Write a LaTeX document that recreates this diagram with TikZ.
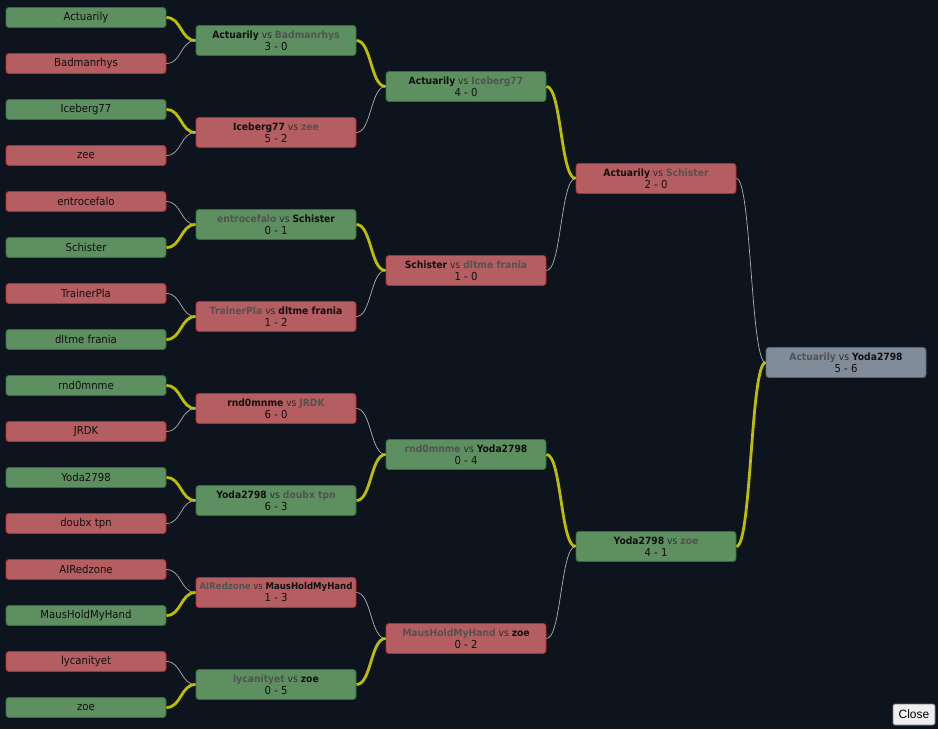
\documentclass[tikz,border=0pt]{standalone}
\usepackage{fontspec}
\setmainfont{DejaVu Sans}[FakeStretch=0.92]
\newfontfamily\btnfont{Liberation Sans}
\definecolor{bg}{RGB}{14,20,29}
\definecolor{gfill}{RGB}{94,143,97}
\definecolor{gborder}{RGB}{38,120,44}
\definecolor{rfill}{RGB}{181,94,98}
\definecolor{rborder}{RGB}{200,35,40}
\definecolor{ffill}{RGB}{128,140,153}
\definecolor{fborder}{RGB}{90,100,112}
\definecolor{wincol}{RGB}{190,190,0}
\definecolor{losecol}{RGB}{175,175,175}
\definecolor{losertxt}{RGB}{82,82,82}
\definecolor{vscol}{RGB}{45,45,45}
\definecolor{txt}{RGB}{15,15,15}
\definecolor{btnfill}{RGB}{239,239,239}
\definecolor{btnborder}{RGB}{118,118,118}
\newcommand\Wn[1]{\textbf{\textcolor{txt}{#1}}}
\newcommand\Ln[1]{\textbf{\textcolor{losertxt}{#1}}}
\newcommand\vsx{\space\textcolor{vscol}{vs}\space}
\newcommand\Sc[1]{{\fontsize{11pt}{12pt}\selectfont #1}}
\begin{document}
\begin{tikzpicture}[x=1pt,y=-1pt,
  box/.style={rounded corners=3pt, inner sep=0pt, line width=0.9pt, text=txt},
  leaf/.style={box, minimum width=160pt, minimum height=20pt, font=\fontsize{11pt}{13pt}\selectfont},
  match/.style={box, minimum width=160pt, minimum height=30pt, align=center, font=\fontsize{10pt}{12pt}\selectfont},
  tight/.style={font=\fontsize{9.3pt}{12pt}\selectfont},
  gbox/.style={fill=gfill, draw=gborder},
  rbox/.style={fill=rfill, draw=rborder},
  fbox/.style={fill=ffill, draw=fborder},
  wl/.style={draw=wincol, line width=2.8pt},
  ll/.style={draw=losecol, line width=0.7pt}]
\fill[bg] (0,0) rectangle (938,729);
% leaves
\node[leaf,gbox] (l1)  at (86,17.5)  {Actuarily};
\node[leaf,rbox] (l2)  at (86,63.5)  {Badmanrhys};
\node[leaf,gbox] (l3)  at (86,109.5) {Iceberg77};
\node[leaf,rbox] (l4)  at (86,155.5) {zee};
\node[leaf,rbox] (l5)  at (86,201.5) {entrocefalo};
\node[leaf,gbox] (l6)  at (86,247.5) {Schister};
\node[leaf,rbox] (l7)  at (86,293.5) {TrainerPla};
\node[leaf,gbox] (l8)  at (86,339.5) {dltme frania};
\node[leaf,gbox] (l9)  at (86,385.5) {rnd0mnme};
\node[leaf,rbox] (l10) at (86,431.5) {JRDK};
\node[leaf,gbox] (l11) at (86,477.5) {Yoda2798};
\node[leaf,rbox] (l12) at (86,523.5) {doubx tpn};
\node[leaf,rbox] (l13) at (86,569.5) {AIRedzone};
\node[leaf,gbox] (l14) at (86,615.5) {MausHoldMyHand};
\node[leaf,rbox] (l15) at (86,661.5) {lycanityet};
\node[leaf,gbox] (l16) at (86,707.5) {zoe};
% round 1
\node[match,gbox] (m1) at (276,40.5)  {\Wn{Actuarily}\vsx\Ln{Badmanrhys}\\\Sc{3 - 0}};
\node[match,rbox] (m2) at (276,132.5) {\Wn{Iceberg77}\vsx\Ln{zee}\\\Sc{5 - 2}};
\node[match,gbox] (m3) at (276,224.5) {\Ln{entrocefalo}\vsx\Wn{Schister}\\\Sc{0 - 1}};
\node[match,rbox] (m4) at (276,316.5) {\Ln{TrainerPla}\vsx\Wn{dltme frania}\\\Sc{1 - 2}};
\node[match,rbox] (m5) at (276,408.5) {\Wn{rnd0mnme}\vsx\Ln{JRDK}\\\Sc{6 - 0}};
\node[match,gbox] (m6) at (276,500.5) {\Wn{Yoda2798}\vsx\Ln{doubx tpn}\\\Sc{6 - 3}};
\node[match,rbox,tight] (m7) at (276,592.5) {\Ln{AIRedzone}\vsx\Wn{MausHoldMyHand}\\\Sc{1 - 3}};
\node[match,gbox] (m8) at (276,684.5) {\Ln{lycanityet}\vsx\Wn{zoe}\\\Sc{0 - 5}};
% round 2
\node[match,gbox] (q1) at (466,86.5)  {\Wn{Actuarily}\vsx\Ln{Iceberg77}\\\Sc{4 - 0}};
\node[match,rbox] (q2) at (466,270.5) {\Wn{Schister}\vsx\Ln{dltme frania}\\\Sc{1 - 0}};
\node[match,gbox] (q3) at (466,454.5) {\Ln{rnd0mnme}\vsx\Wn{Yoda2798}\\\Sc{0 - 4}};
\node[match,rbox] (q4) at (466,638.5) {\Ln{MausHoldMyHand}\vsx\Wn{zoe}\\\Sc{0 - 2}};
% round 3
\node[match,rbox] (s1) at (656,178.5) {\Wn{Actuarily}\vsx\Ln{Schister}\\\Sc{2 - 0}};
\node[match,gbox] (s2) at (656,546.5) {\Wn{Yoda2798}\vsx\Ln{zoe}\\\Sc{4 - 1}};
% final
\node[match,fbox] (f) at (846,362.5) {\Ln{Actuarily}\vsx\Wn{Yoda2798}\\\Sc{5 - 6}};
% connectors
\foreach \a/\b/\s in {l1/m1/wl,l2/m1/ll,l3/m2/wl,l4/m2/ll,l5/m3/ll,l6/m3/wl,l7/m4/ll,l8/m4/wl,
  l9/m5/wl,l10/m5/ll,l11/m6/wl,l12/m6/ll,l13/m7/ll,l14/m7/wl,l15/m8/ll,l16/m8/wl,
  m1/q1/wl,m2/q1/ll,m3/q2/wl,m4/q2/ll,m5/q3/ll,m6/q3/wl,m7/q4/ll,m8/q4/wl,
  q1/s1/wl,q2/s1/ll,q3/s2/wl,q4/s2/ll,s1/f/ll,s2/f/wl}
  \draw[\s] (\a.east) .. controls +(15,0) and +(-15,0) .. (\b.west);
% close button
\node[draw=btnborder, fill=btnfill, rounded corners=2pt, line width=0.8pt, inner sep=0pt,
  minimum width=42pt, minimum height=21pt, font=\btnfont\fontsize{12pt}{14pt}\selectfont, text=black]
  (close) at (914,714.5) {Close};
\end{tikzpicture}
\end{document}
